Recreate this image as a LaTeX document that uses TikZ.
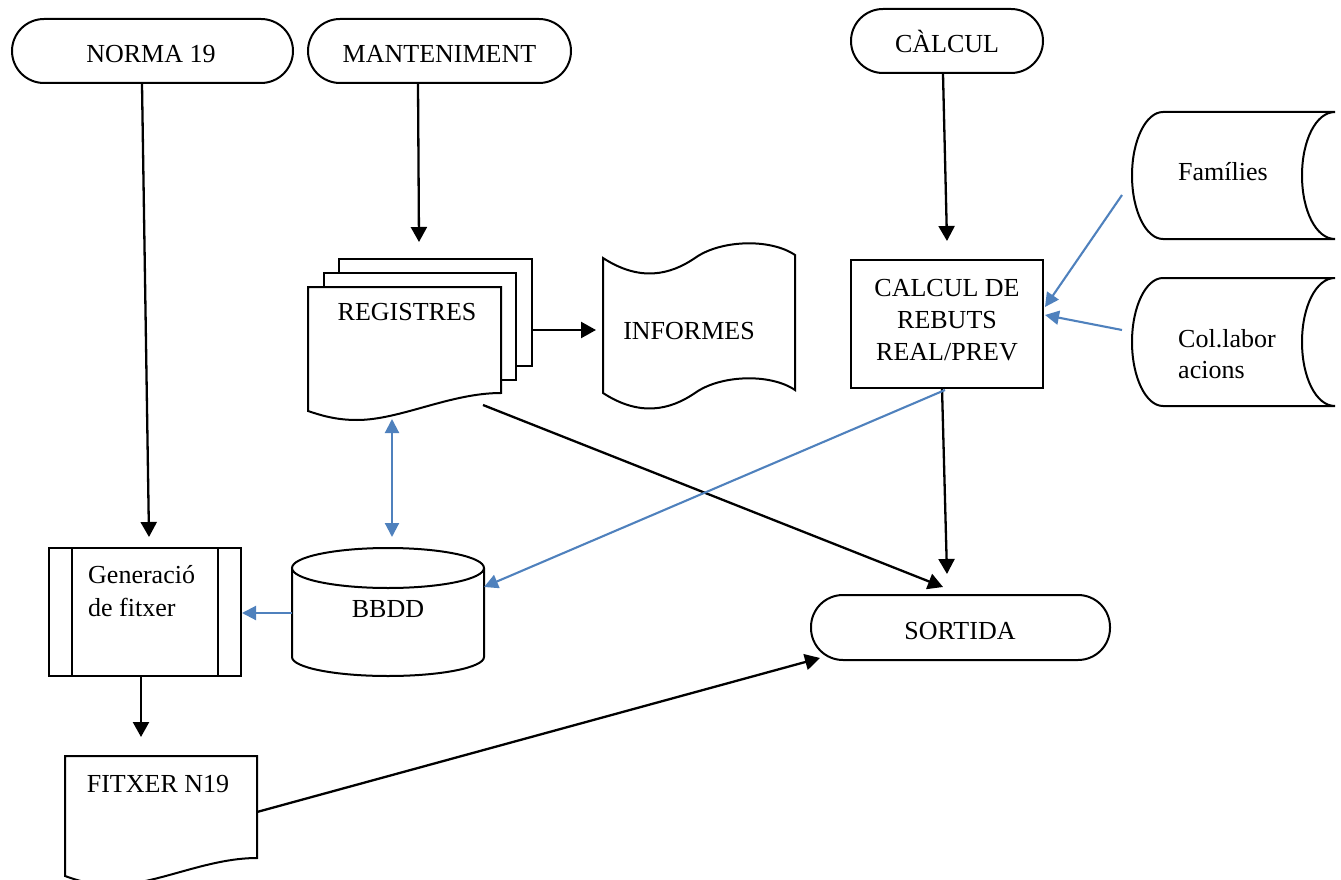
\documentclass[tikz,border=0pt]{standalone}
\usepackage{fontspec}
\setmainfont{Liberation Serif}
\usetikzlibrary{arrows.meta}
\definecolor{linkblue}{RGB}{79,129,189}
\begin{document}
\begin{tikzpicture}[x=1pt,y=-1pt,
  font=\fontsize{26}{32}\selectfont,
  shapeline/.style={draw=black, line width=2pt, fill=white},
  terminal/.style={shapeline, rounded corners=32pt, minimum height=64pt, inner sep=0pt},
  procbox/.style={shapeline, inner sep=0pt},
  lbl/.style={anchor=base, inner sep=0pt},
  lblw/.style={anchor=base west, inner sep=0pt},
  blackarrow/.style={draw=black, line width=2.3pt, -{Triangle[length=15pt,width=16pt]}},
  bluearrow/.style={draw=linkblue, line width=2.1pt, -{Triangle[length=14pt,width=14pt]}},
  bluedouble/.style={draw=linkblue, line width=2.1pt, {Triangle[length=14pt,width=14pt]}-{Triangle[length=14pt,width=14pt]}}]
\useasboundingbox (0,0) rectangle (1341,880);

% ---- terminals
\node[terminal, minimum width=281pt] (norma) at (152.5,51) {};
\node[lbl] (normat) at (151,63) {NORMA 19};
\node[terminal, minimum width=263pt] (mant) at (439.5,51) {};
\node[lbl] (mantt) at (439.5,63) {MANTENIMENT};
\node[terminal, minimum width=192pt] (calc) at (947,41) {};
\node[lbl] (calct) at (947,53) {CÀLCUL};
\node[terminal, minimum width=299pt, minimum height=65pt] (sortida) at (960.5,627.5) {};
\node[lbl] (sortidat) at (960,639) {SORTIDA};

% ---- process boxes
\node[procbox, minimum width=192pt, minimum height=128pt] (calcrect) at (947,324) {};
\node[lbl] (calc1) at (947,296) {CALCUL DE};
\node[lbl] (calc2) at (947,328) {REBUTS};
\node[lbl] (calc3) at (947,360) {REAL/PREV};

\node[procbox, minimum width=192pt, minimum height=128pt] (gen) at (145,612) {};
\draw[line width=2pt] (72,548) -- (72,676);
\draw[line width=2pt] (218,548) -- (218,676);
\node[lblw] (gen1) at (88,583) {Generació};
\node[lblw] (gen2) at (88,616) {de fitxer};

% ---- multidocument REGISTRES
\draw[shapeline] (339,259) rectangle (532,366);
\draw[shapeline] (324,273) rectangle (516,380);
\draw[shapeline] (308,411) -- (308,287) -- (501,287) -- (501,393)
  .. controls (450,393) and (400,420) .. (357,420)
  .. controls (335,420) and (320,415) .. (308,411) -- cycle;
\node[lbl] (regt) at (407,320) {REGISTRES};

% ---- punched tape INFORMES
\draw[shapeline] (603,258) .. controls (640,282) and (670,275) .. (695,258)
  .. controls (720,240) and (770,238) .. (795,255)
  -- (795,390)
  .. controls (770,373) and (720,375) .. (695,393)
  .. controls (670,410) and (640,417) .. (603,393) -- cycle;
\node[lbl] (inft) at (689,339) {INFORMES};

% ---- stored data
\draw[shapeline] (1163,112) -- (1335,112)
  .. controls (1316,112) and (1302,140.4) .. (1302,175.5)
  .. controls (1302,210.6) and (1316,239) .. (1335,239) -- (1163,239)
  .. controls (1145.9,239) and (1132,210.6) .. (1132,175.5)
  .. controls (1132,140.4) and (1145.9,112) .. (1163,112) -- cycle;
\node[lblw] (famt) at (1178,180) {Famílies};
\draw[shapeline] (1163,278) -- (1335,278)
  .. controls (1316,278) and (1302,306.7) .. (1302,342)
  .. controls (1302,377.3) and (1316,406) .. (1335,406) -- (1163,406)
  .. controls (1145.9,406) and (1132,377.3) .. (1132,342)
  .. controls (1132,306.7) and (1145.9,278) .. (1163,278) -- cycle;
\node[lblw] (col1) at (1178,347) {Col.labor};
\node[lblw] (col2) at (1178,378) {acions};

% ---- cylinder BBDD
\draw[shapeline] (292,568) -- (292,657)
  .. controls (292,667.5) and (335,676) .. (388,676)
  .. controls (441,676) and (484,667.5) .. (484,657) -- (484,568);
\draw[shapeline] (388,568) ellipse [x radius=96pt, y radius=20pt];
\node[lbl] (bbddt) at (388,617) {BBDD};

% ---- document FITXER N19
\draw[shapeline] (65,876) -- (65,756) -- (257,756) -- (257,858)
  .. controls (206,858) and (156,885) .. (113,885)
  .. controls (91,885) and (76,880) .. (65,876) -- cycle;
\node[lbl] (fitt) at (158,792) {FITXER N19};

% ---- connector end points
\coordinate (regR) at (532,330);
\coordinate (regB) at (483,405);
\coordinate (regD) at (392,419);
\coordinate (bbddU) at (392,537);
\coordinate (bbddL) at (292,613);
\coordinate (bbddR) at (484,587);
\coordinate (genT) at (149,537);
\coordinate (genR) at (242,613);
\coordinate (genB) at (141,676);
\coordinate (fitT) at (141,737);
\coordinate (fitR) at (257,812);
\coordinate (infL) at (596,330);
\coordinate (regT) at (419,242);
\coordinate (crT) at (947,241);
\coordinate (crB) at (942,388);
\coordinate (crB2) at (945,390);
\coordinate (crR1) at (1045,307);
\coordinate (crR2) at (1045,315);
\coordinate (famL) at (1122,195);
\coordinate (colL) at (1122,330);
\coordinate (sorT1) at (947,574);
\coordinate (sorT2) at (943,587);
\coordinate (sorL) at (820,658);

% ---- black connectors
\draw[blackarrow] ([xshift=-10.5pt]norma.south) -- (genT);
\draw[blackarrow] ([xshift=-21.5pt]mant.south) -- (regT);
\draw[blackarrow] ([xshift=-4pt]calc.south) -- (crT);
\draw[blackarrow] (regR) -- (infL);
\draw[blackarrow] (regB) -- (sorT2);
\draw[blackarrow] (crB) -- (sorT1);
\draw[blackarrow] (genB) -- (fitT);
\draw[blackarrow] (fitR) -- (sorL);

% ---- blue connectors
\draw[bluearrow] (famL) -- (crR1);
\draw[bluearrow] (colL) -- (crR2);
\draw[bluearrow] (crB2) -- (bbddR);
\draw[bluedouble] (regD) -- (bbddU);
\draw[bluearrow] (bbddL) -- (genR);
\end{tikzpicture}
\end{document}
